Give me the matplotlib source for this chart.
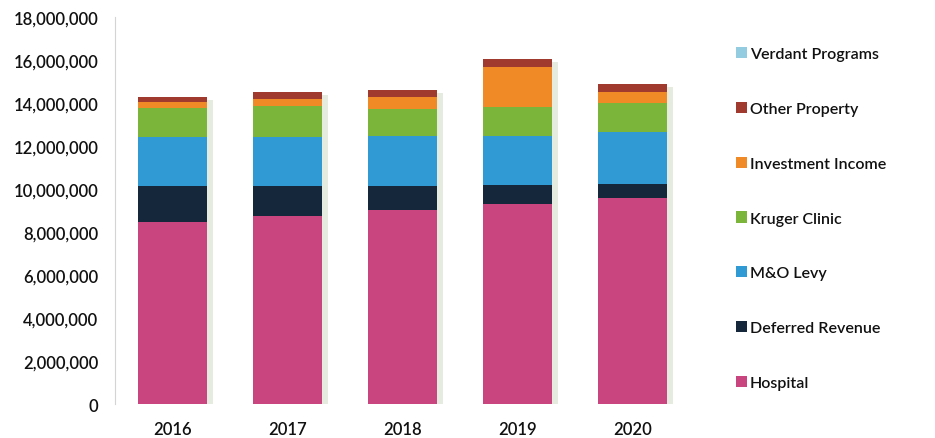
import numpy as np
import matplotlib
matplotlib.use("Agg")
import matplotlib.pyplot as plt
import matplotlib.patheffects as pe
from matplotlib.ticker import FuncFormatter

# Data
years = ["2016", "2017", "2018", "2019", "2020"]
hospital = [8470000, 8760000, 9020000, 9300000, 9570000]
deferred_revenue = [1670000, 1390000, 1130000, 890000, 660000]
mo_levy = [2280000, 2250000, 2300000, 2260000, 2410000]
kruger_clinic = [1350000, 1450000, 1270000, 1350000, 1360000]
investment_income = [280000, 340000, 540000, 1860000, 500000]
other_property = [240000, 310000, 340000, 390000, 380000]
verdant_programs = [0, 0, 0, 0, 0]

series = [
    ("Hospital", hospital, "#C8457F"),
    ("Deferred Revenue", deferred_revenue, "#15283B"),
    ("M&O Levy", mo_levy, "#2F9AD4"),
    ("Kruger Clinic", kruger_clinic, "#7BB63A"),
    ("Investment Income", investment_income, "#F08A26"),
    ("Other Property", other_property, "#A13A2E"),
    ("Verdant Programs", verdant_programs, "#93CCE0"),
]

plt.rcParams['font.family'] = ['Lato', 'DejaVu Sans']
plt.rcParams['font.weight'] = 'semibold'

fig = plt.figure(figsize=(9.35, 4.39), dpi=100)
ax = fig.add_axes([0.123, 0.0774, 0.615, 0.8815])

x = np.arange(len(years))

# soft shadow behind each whole stack
totals = np.sum([s[1] for s in series], axis=0)
ax.bar(x, totals, width=0.6, color="none", linewidth=0, zorder=1,
       path_effects=[pe.SimplePatchShadow(offset=(4, -2), shadow_rgbFace="#e3eadc", alpha=0.9)])

bottom = np.zeros(len(years))
handles = []
for name, vals, color in series:
    vals = np.array(vals, dtype=float)
    bars = ax.bar(x, vals, width=0.6, bottom=bottom, color=color, label=name,
                  linewidth=0, zorder=2)
    handles.append(bars)
    bottom += vals

ax.set_xlim(-0.5, 4.5)
ax.set_ylim(0, 18000000)
ax.set_yticks(np.arange(0, 18000001, 2000000))
ax.yaxis.set_major_formatter(FuncFormatter(lambda v, p: f"{int(v):,}"))
ax.set_xticks(x)
ax.set_xticklabels(years)

for s in ["top", "right", "bottom"]:
    ax.spines[s].set_visible(False)
ax.spines["left"].set_color("#d4d4d4")
ax.tick_params(axis="both", length=0, labelsize=12, colors="#111111")
ax.tick_params(axis="y", pad=12)
ax.tick_params(axis="x", pad=12)

leg = fig.legend(handles[::-1], [s[0] for s in series][::-1],
                 loc="upper left", bbox_to_anchor=(0.78, 0.905),
                 frameon=False, fontsize=11.5, handlelength=0.7, handleheight=0.7,
                 handletextpad=0.2, labelspacing=2.54, borderaxespad=0)
for t in leg.get_texts():
    t.set_color("#111111")

fig.savefig("out.png", dpi=100)
